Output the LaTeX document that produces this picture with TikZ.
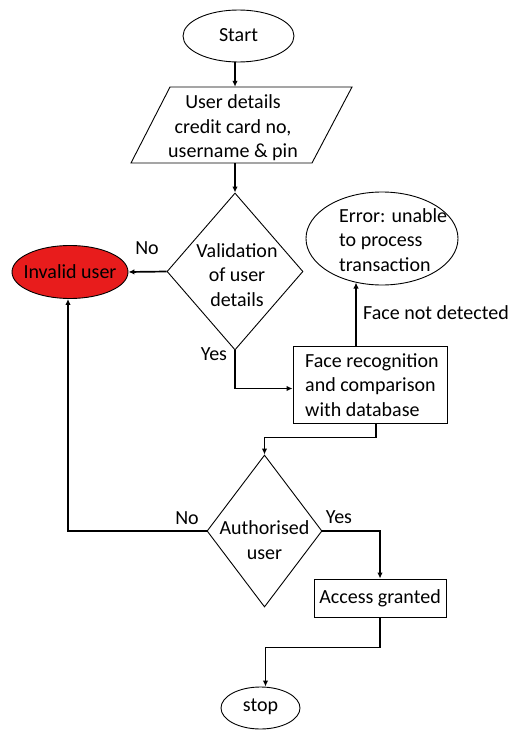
\documentclass[tikz,border=0pt]{standalone}
\usepackage{fontspec}
\setmainfont{Carlito}
\usetikzlibrary{shapes.geometric,arrows.meta}
\definecolor{alertred}{RGB}{232,28,28}
\tikzset{
  every node/.style={font=\fontsize{20}{24.5}\selectfont},
  shapeline/.style={draw=black, line width=0.9pt},
  terminal/.style={shapeline, ellipse, inner sep=0pt},
  procbox/.style={shapeline, rectangle, inner sep=0pt},
  decision/.style={shapeline, diamond, inner sep=0pt},
  txt/.style={inner sep=0pt, align=center},
  arr/.style={line width=1.7pt, -{Latex[length=6pt,width=5.5pt]}},
}
\begin{document}
\begin{tikzpicture}[x=1pt,y=-1pt]
\useasboundingbox (0,0) rectangle (510,730);

% terminals
\node[terminal, minimum width=111pt, minimum height=52pt] (start) at (238.5,36) {};
\node[txt] (starttxt) at (238.5,35) {Start};

% input parallelogram
\node[minimum width=140pt, minimum height=76pt, inner sep=0pt] (details) at (235,125) {};
\draw[shapeline] (131,163) -- (170,87) -- (352,87) -- (312,163) -- cycle;
\node[txt] (detailstxt) at (233,128) {User details\\credit card no,\\username \& pin};

% first decision
\node[decision, minimum width=136pt, minimum height=157pt] (v1) at (235,271.5) {};
\node[txt] (v1txt) at (237,275) {Validation\\of user\\details};

% invalid user
\node[terminal, fill=alertred, minimum width=116pt, minimum height=53pt] (invalid) at (70,272) {};
\node[txt] (invalidtxt) at (70,272) {Invalid user};

% error
\node[terminal, minimum width=152pt, minimum height=93pt] (err) at (382,238.5) {};
\node[txt, align=left, anchor=west] (errtxt) at (339,240) {Error: unable\\to process\\transaction};

% face recognition
\node[procbox, minimum width=154pt, minimum height=77pt] (face) at (370,384.5) {};
\node[txt, align=left, anchor=west] (facetxt) at (305,385) {Face recognition\\and comparison\\with database};

% second decision
\node[decision, minimum width=115pt, minimum height=152pt] (v2) at (264.5,531) {};
\node[txt] (v2txt) at (264.5,540) {Authorised\\user};

% access granted
\node[procbox, minimum width=132pt, minimum height=38pt] (access) at (380,598) {};
\node[txt] (accesstxt) at (380,598) {Access granted};

% stop
\node[terminal, minimum width=79pt, minimum height=42pt] (stop) at (260.5,708) {};
\node[txt] (stoptxt) at (260.5,707) {stop};

% branch labels
\node[txt] (no1) at (147,248) {No};
\node[txt] (yes1) at (214,354) {Yes};
\node[txt, anchor=west] (fnd) at (363,313) {Face not detected};
\node[txt] (no2) at (187,518) {No};
\node[txt] (yes2) at (339,517) {Yes};

% connectors
\draw[arr] (details.north |- start.south) -- (details.north);
\draw[arr] (details.south) -- (v1.north);
\draw[arr] (v1.west) -- (invalid.east);
\draw[arr] (v1.south) |- ([yshift=-4pt]face.west);
\draw[arr] ([xshift=-14pt]face.north) -- ([xshift=-14pt]face.north |- err.239);
\draw[arr] ([xshift=6pt]face.south) -- ++(0,14) -| (v2.north);
\draw[arr] (v2.west) -| ([xshift=-2pt]invalid.south);
\draw[arr] (v2.east) -| (access.north);
\draw[arr] (access.south) -- ++(0,30) -| ([xshift=5pt]stop.north);
\end{tikzpicture}
\end{document}
